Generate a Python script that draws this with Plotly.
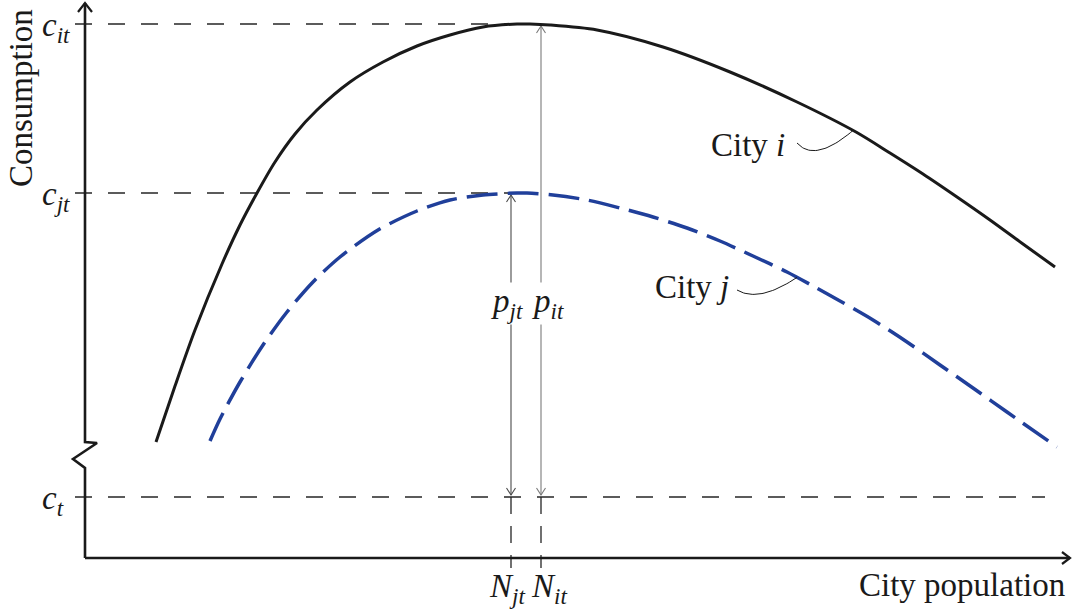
import numpy as np
import plotly.graph_objects as go

# ---------------- data ----------------
# City i (solid black curve): population vs consumption
pop_i = [71, 90, 110, 137, 155, 172, 190, 210, 232, 265, 298, 332, 365, 398, 432, 445,
         465, 512, 578, 645, 712, 771, 805, 838, 872, 905, 938, 970]
cons_i = [116, 172, 228, 294, 333, 365, 396, 424, 448, 476, 496, 512, 523, 531, 534, 534,
          533, 528, 511, 486, 456, 426, 405, 384, 361, 338, 314, 291]

# City j (dashed blue curve)
pop_j = [125, 135, 155, 178, 202, 228, 255, 293, 332, 365, 398, 432, 442, 468, 502, 535,
         568, 602, 635, 668, 702, 728, 755, 788, 822, 855, 888, 922, 972]
cons_j = [117, 139, 176, 213, 246, 276, 301, 328, 347, 358, 363, 365, 365, 363, 358, 350,
          341, 330, 317, 302, 286, 272, 257, 238, 216, 193, 170, 146, 111]

# reference levels
level_names = ["<i>c</i><sub><i>it</i></sub>", "<i>c</i><sub><i>jt</i></sub>", "<i>c</i><sub><i>t</i></sub>"]
level_values = [534, 365, 61]
level_ends = [445, 435, 960]
c_it, c_jt, c_t = level_values

N_names = ["<i>N</i><sub><i>jt</i></sub>", "<i>N</i><sub><i>it</i></sub>"]
N_values = [426, 456]
N_jt, N_it = N_values

# axis geometry
x_tip, y_tip = 985, 555
break_lo, break_hi = 90, 116

# ---------------- styling ----------------
FONT = "Liberation Serif"
FS = 33
INK = "#1a1a1a"
DASHC = "#262626"
BLUE = "#203f9a"

fig = go.Figure()

def line(xs, ys, color=INK, width=1.0, dash=None, shape="linear", smoothing=1.0):
    fig.add_trace(go.Scatter(x=list(xs), y=list(ys), mode="lines",
                             line=dict(color=color, width=width, dash=dash, shape=shape,
                                       smoothing=smoothing if shape == "spline" else None),
                             hoverinfo="skip", showlegend=False))

# dashed reference levels (start just left of the axis so they form ticks)
for v, end in zip(level_values, level_ends):
    line([-10, end], [v, v], color=DASHC, width=1.3, dash="17px,16px")

# dashed verticals from c_t down past the x-axis
for n in N_values:
    line([n, n], [c_t, -10], color=DASHC, width=1.3, dash="17px,12px")

# arrows p_jt and p_it
def varrow(x, y0, y1, color):
    line([x, x], [y0 + 2, y1 - 2], color=color, width=1.1)
    hw, hh = 4.5, 7
    line([x - hw, x, x + hw], [y1 - 2 - hh, y1 - 2, y1 - 2 - hh], color=color, width=1.1)
    line([x - hw, x, x + hw], [y0 + 2 + hh, y0 + 2, y0 + 2 + hh], color=color, width=1.1)

varrow(N_jt, c_t, c_jt, "#4a4a4a")
varrow(N_it, c_t, c_it, "#7a7a7a")

# curves
line(pop_i, cons_i, color=INK, width=3.0, shape="spline", smoothing=0.8)
line(pop_j, cons_j, color=BLUE, width=3.5, dash="31px,10px", shape="spline", smoothing=0.8)

# axes
line([0, 0, -12, 12, 0, 0], [0, break_lo, break_lo + 9, break_hi - 1, break_hi, y_tip],
     color=INK, width=2.6)
line([-7, 0, 7], [y_tip - 9, y_tip, y_tip - 9], color=INK, width=2.2)
line([0, x_tip], [0, 0], color=INK, width=2.6)
line([x_tip - 8, x_tip, x_tip - 8], [6, 0, -6], color=INK, width=2.2)

# connectors for curve labels (quadratic Bezier)
def connector(p0, c, xend, xs, ys):
    p2 = (xend, float(np.interp(xend, xs, ys)))
    t = np.linspace(0, 1, 30)
    bx = (1 - t) ** 2 * p0[0] + 2 * (1 - t) * t * c[0] + t ** 2 * p2[0]
    by = (1 - t) ** 2 * p0[1] + 2 * (1 - t) * t * c[1] + t ** 2 * p2[1]
    line(bx, by, color=INK, width=1.0)

connector((712, 415), (730, 395), 768, pop_i, cons_i)
connector((652, 268), (674, 255), 712, pop_j, cons_j)

# ---------------- text ----------------
def label(x, y, text, xanchor="center", angle=0, bg=None):
    fig.add_annotation(x=x, y=y, text=text, showarrow=False, xanchor=xanchor,
                       yanchor="middle", textangle=angle,
                       font=dict(family=FONT, size=FS, color=INK),
                       bgcolor=bg, borderpad=0)

for name, v in zip(level_names, level_values):
    label(-44, v - 3, name, xanchor="left")
for name, n, dx in zip(N_names, N_values, [-4, 8]):
    label(n + dx, -30, name)
label(N_jt - 4, 255, "<i>p</i><sub><i>jt</i></sub>", bg="white")
label(N_it + 7, 255, "<i>p</i><sub><i>it</i></sub>", bg="white")
label(877, -27, "City population")
label(-64, 460, "Consumption", angle=-90)
label(663, 413, "City <i>i</i>")
label(607, 271, "City <i>j</i>")

fig.update_layout(
    width=1080, height=613,
    margin=dict(l=0, r=0, t=0, b=0),
    paper_bgcolor="white", plot_bgcolor="white",
    showlegend=False,
    xaxis=dict(range=[-85, 995], visible=False, fixedrange=True),
    yaxis=dict(range=[-55, 558], visible=False, fixedrange=True),
)

fig.write_html("out.html", config={"displayModeBar": False},
               post_script="document.body.style.margin='0';")
